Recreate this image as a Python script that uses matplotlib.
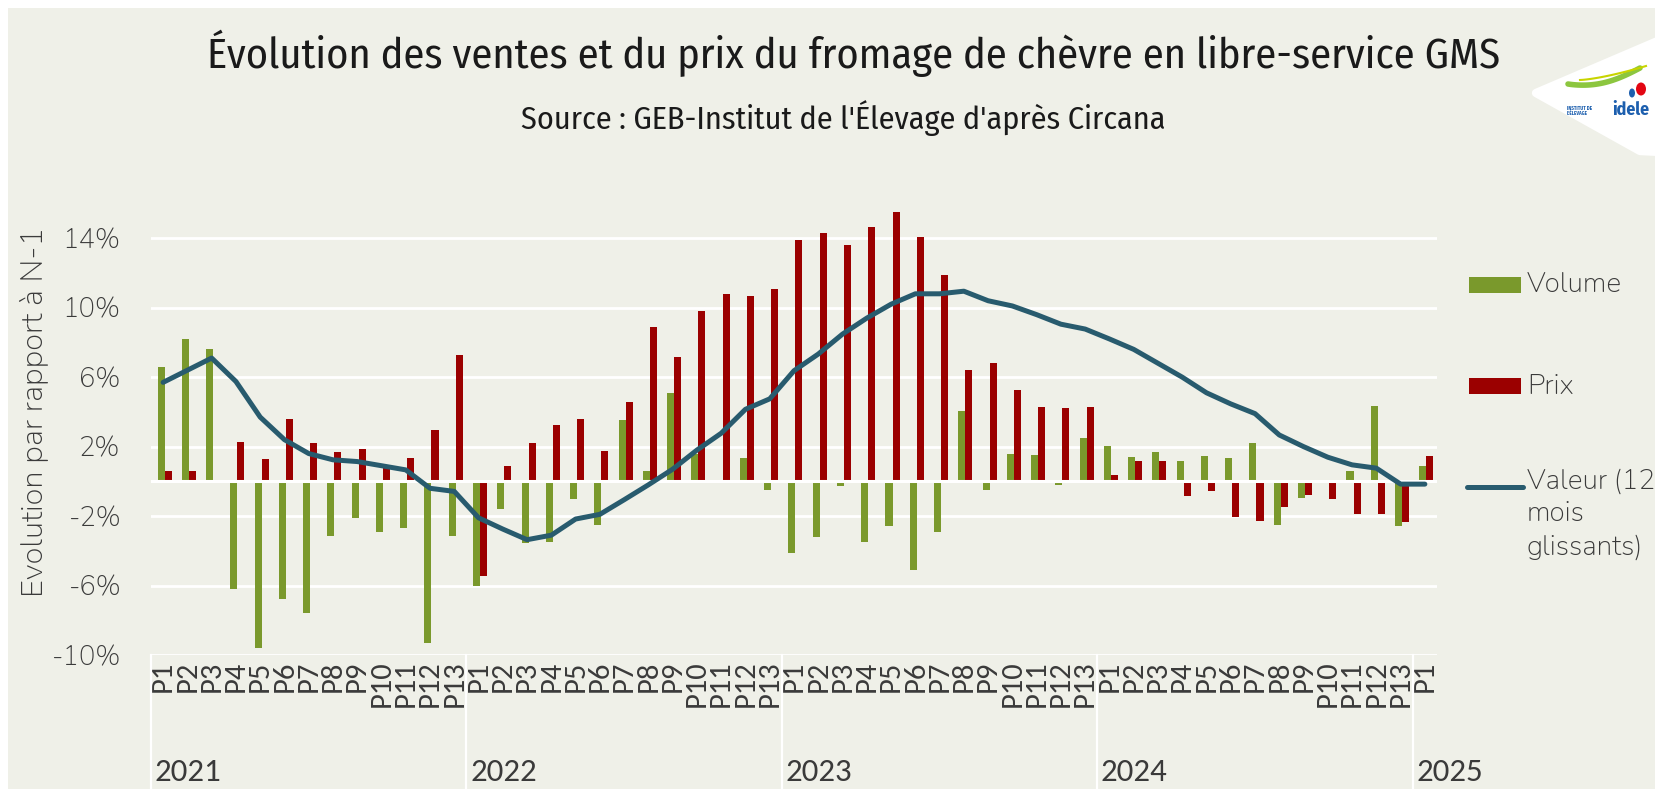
import numpy as np
import matplotlib.pyplot as plt
from matplotlib.patches import Rectangle, Polygon, Ellipse
from matplotlib.lines import Line2D

years = ["2021", "2022", "2023", "2024", "2025"]
periodes = [f"P{i}" for i in range(1, 14)] * 4 + ["P1"]

volume = [6.6, 8.2, 7.6, -6.2, -9.6, -6.75, -7.6, -3.17, -2.1, -2.9, -2.7, -9.3, -3.17,
          -6.04, -1.6, -3.55, -3.5, -1.02, -2.5, 3.54, 0.6, 5.1, 1.6, -0.1, 1.33, -0.5,
          -4.1, -3.2, -0.26, -3.5, -2.56, -5.1, -2.9, 4.07, -0.5, 1.56, 1.49, -0.2, 2.5,
          2.06, 1.41, 1.7, 1.18, 1.47, 1.33, 2.2, -2.5, -0.97, 0.0, 0.6, 4.34, -2.6,
          0.89]
prix = [0.57, 0.57, 0.0, 2.27, 1.26, 3.6, 2.2, 1.7, 1.85, 0.85, 1.33, 2.96, 7.3,
        -5.47, 0.89, 2.2, 3.25, 3.6, 1.77, 4.57, 8.9, 7.14, 9.8, 10.8, 10.7, 11.1,
        13.9, 14.3, 13.6, 14.65, 15.5, 14.07, 11.9, 6.4, 6.8, 5.25, 4.27, 4.2, 4.27,
        0.37, 1.18, 1.18, -0.87, -0.58, -2.06, -2.27, -1.48, -0.79, -1.02, -1.89, -1.89, -2.35,
        1.47]
valeur = [5.7, 6.4, 7.1, 5.75, 3.7, 2.4, 1.6, 1.24, 1.14, 0.9, 0.66, -0.4, -0.58,
          -2.1, -2.75, -3.36, -3.1, -2.17, -1.9, -1.06, -0.2, 0.7, 1.8, 2.77, 4.15, 4.75,
          6.37, 7.33, 8.48, 9.4, 10.2, 10.8, 10.8, 10.95, 10.4, 10.1, 9.6, 9.05, 8.77,
          8.2, 7.6, 6.8, 6.0, 5.1, 4.46, 3.9, 2.67, 2.0, 1.39, 0.95, 0.76, -0.16,
          -0.16]
yticks = [-10, -6, -2, 2, 6, 10, 14]

BG = "#eff0e8"
GREEN = "#7a992c"
RED = "#9b0000"
TEAL = "#285b6e"
TXT = "#3a3a3a"
COND = ["Fira Sans Condensed", "DejaVu Sans"]
CALI = ["Carlito", "Fira Sans Condensed", "DejaVu Sans"]
ROUND = ["Nunito", "Lato", "DejaVu Sans"]
plt.rcParams["font.family"] = ROUND

W, H = 1656, 789
fig = plt.figure(figsize=(W / 100, H / 100), dpi=100, facecolor="white")
renderer = fig.canvas.get_renderer()


def fx(px):
    return px / W


def fy(py):
    return 1 - py / H


def size_for(text, family, target_px, weight="normal"):
    # font size (pt) giving the wanted text width in pixels
    tmp = fig.text(0, 0, text, fontsize=20, family=family, fontweight=weight)
    w = tmp.get_window_extent(renderer).width
    tmp.remove()
    return 20 * target_px / w


fig.patches.append(Rectangle((fx(8), 0), 1, 1 - 8 / H, transform=fig.transFigure,
                             facecolor=BG, edgecolor="none", zorder=-10))

ax = fig.add_axes([fx(151), 134 / H, (1437 - 151) / W, 451.5 / H])
ax.set_facecolor("none")

x = np.arange(len(volume))
bw = 0.29
ax.bar(x - bw / 2 + 0.06, volume, bw, color=GREEN, zorder=3)
ax.bar(x + bw / 2 + 0.06, prix, bw, color=RED, zorder=3)
ax.axhline(0, color="white", lw=2.2, zorder=3.5)
ax.plot(x, valeur, color=TEAL, lw=3.6, solid_capstyle="round",
        solid_joinstyle="round", zorder=4)

ax.set_xlim(-0.5, 52.5)
ax.set_ylim(-10, 16)
ax.set_yticks(yticks, [f"{v}%" for v in yticks])
ax.yaxis.grid(True, color="white", lw=2)
ax.set_axisbelow(True)
for s in ax.spines.values():
    s.set_visible(False)
ax.tick_params(axis="y", length=0, pad=22, labelsize=size_for("14%", ROUND, 58),
               labelcolor=TXT)
ax.set_xticks(x, periodes, rotation=90, fontsize=22, family=CALI, color=TXT)
ax.tick_params(axis="x", length=0, pad=4)

# year separators and labels under the axis
tr = ax.get_xaxis_transform()
year_size = size_for("2021", CALI, 67)
for k, yr in enumerate(years):
    xs = -0.5 + 13 * k
    ax.plot([xs, xs], [0, -0.3], color="white", lw=1.6, transform=tr, clip_on=False)
    ax.text(xs + 0.15, -0.259, yr, transform=tr, ha="left", va="center",
            fontsize=year_size, family=CALI, color=TXT)

ylab = "Evolution par rapport à N-1"
fig.text(fx(34), fy(412), ylab, rotation=90, ha="center", va="center",
         fontsize=size_for(ylab, ROUND, 371), color=TXT)

title = "Évolution des ventes et du prix du fromage de chèvre en libre-service GMS"
fig.text(fx(854), fy(53), title, ha="center", va="center",
         fontsize=size_for(title, COND, 1292), family=COND, color="#1a1a1a")
sub = "Source : GEB-Institut de l'Élevage d'après Circana"
fig.text(fx(843), fy(118), sub, ha="center", va="center",
         fontsize=size_for(sub, COND, 644), family=COND, color="#1a1a1a")

# legend
leg_size = size_for("Volume", ROUND, 95)
fig.patches.append(Rectangle((fx(1469), fy(293)), 52 / W, 16 / H, transform=fig.transFigure,
                             facecolor=GREEN, edgecolor="none"))
fig.text(fx(1527), fy(285), "Volume", ha="left", va="center", fontsize=leg_size, color=TXT)
fig.patches.append(Rectangle((fx(1469), fy(394)), 52 / W, 16 / H, transform=fig.transFigure,
                             facecolor=RED, edgecolor="none"))
fig.text(fx(1527), fy(386), "Prix", ha="left", va="center", fontsize=leg_size, color=TXT)
fig.lines.append(Line2D([fx(1467), fx(1523)], [fy(487), fy(487)], transform=fig.transFigure,
                        color=TEAL, lw=3.6, solid_capstyle="round"))
fig.text(fx(1527), fy(468), "Valeur (12\nmois\nglissants)", ha="left", va="top",
         fontsize=leg_size, color=TXT, linespacing=1.38)

# logo
logo_pts = [(fx(1536), fy(93)), (fx(1660), fy(40)), (fx(1660), fy(152)), (fx(1640), fy(151))]
fig.patches.append(Polygon(logo_pts, closed=True, transform=fig.transFigure,
                           facecolor="white", edgecolor="white", lw=6, joinstyle="round"))
t = np.linspace(0, 1, 30)
fig.lines.append(Line2D(fx(1568 + 72 * t), fy(84 - 16 * t ** 1.6 + 4 * np.sin(np.pi * t)),
                        transform=fig.transFigure, color="#8cc63f", lw=4,
                        solid_capstyle="round"))
fig.lines.append(Line2D(fx(1580 + 66 * t), fy(80 - 14 * t ** 1.4), transform=fig.transFigure,
                        color="#c8d400", lw=1.5))
fig.patches.append(Ellipse((fx(1641), fy(89)), 10 / W, 13 / H, transform=fig.transFigure,
                           facecolor="#e30613", edgecolor="none"))
fig.patches.append(Ellipse((fx(1632), fy(93)), 6 / W, 9 / H, transform=fig.transFigure,
                           facecolor="#1d5fae", edgecolor="none"))
fig.text(fx(1567), fy(111), "INSTITUT DE\nL'ÉLEVAGE", ha="left", va="center",
         fontsize=3.6, color="#1d5fae", fontweight="bold", family=COND, linespacing=1.0)
fig.text(fx(1612), fy(110), "idele", ha="left", va="center",
         fontsize=size_for("idele", COND, 37, "bold"), color="#1d5fae",
         fontweight="bold", family=COND)

fig.savefig("out.png", dpi=100, facecolor="white")
